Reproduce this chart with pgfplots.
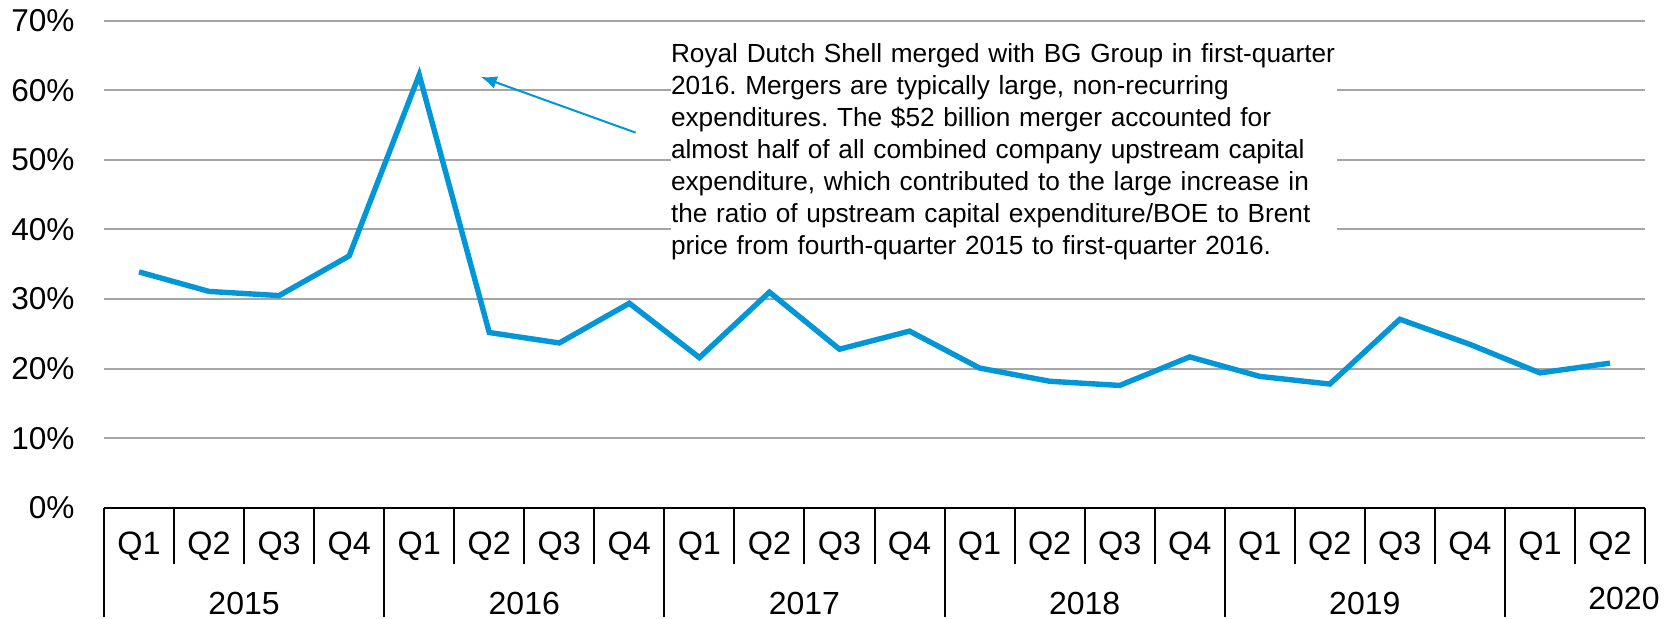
\documentclass[border=0pt]{standalone}
\usepackage{pgfplots}
\pgfplotsset{compat=1.18}
\usetikzlibrary{arrows.meta}
\usepackage{fontspec}
\setmainfont{Liberation Sans}
\frenchspacing
\definecolor{eiablue}{HTML}{0096D7}
\definecolor{gridgray}{HTML}{A6A6A6}
\begin{document}
\begin{tikzpicture}
\begin{axis}[
  at={(0,0)}, anchor=south west,
  scale only axis, width=770.5pt, height=243.75pt,
  xmin=-0.5, xmax=21.5, ymin=0, ymax=70,
  clip=false,
  axis line style={draw=none},
  tick style={draw=none},
  major tick length=0pt,
  ymajorgrids, grid style={gridgray, line width=1pt},
  ytick={0,10,...,70},
  yticklabel={\pgfmathprintnumber{\tick}\%},
  /pgf/number format/assume math mode=true,
  yticklabel style={anchor=east, inner sep=0pt, xshift=-14.5pt, font=\fontsize{15.8}{18}\selectfont},
  xtick={0,...,21},
  xticklabels={Q1,Q2,Q3,Q4,Q1,Q2,Q3,Q4,Q1,Q2,Q3,Q4,Q1,Q2,Q3,Q4,Q1,Q2,Q3,Q4,Q1,Q2},
  xticklabel style={anchor=center, inner sep=0pt, yshift=-19pt, font=\fontsize{16.2}{18}\selectfont},
]
\addplot[eiablue, line width=2.7pt] coordinates {
 (0,33.9) (1,31.1) (2,30.5) (3,36.2)
 (4,62.2) (5,25.2) (6,23.7) (7,29.4)
 (8,21.6) (9,31.0) (10,22.8) (11,25.4)
 (12,20.1) (13,18.2) (14,17.6) (15,21.7)
 (16,18.9) (17,17.8) (18,27.1) (19,23.5)
 (20,19.4) (21,20.8)
};
% category table
\draw[black, line width=1pt] (axis cs:-0.5,0) -- (axis cs:21.5,0);
\pgfplotsinvokeforeach{0.5,1.5,2.5,4.5,5.5,6.5,8.5,9.5,10.5,12.5,13.5,14.5,16.5,17.5,18.5,20.5,21.5}{
  \draw[black, line width=1pt] (axis cs:#1,0) -- ([yshift=-28pt]axis cs:#1,0);
}
\pgfplotsinvokeforeach{-0.5,3.5,7.5,11.5,15.5,19.5}{
  \draw[black, line width=1pt] (axis cs:#1,0) -- ([yshift=-54.5pt]axis cs:#1,0);
}
\node[font=\fontsize{16}{18}\selectfont, inner sep=0pt, yshift=-47.5pt] at (axis cs:1.5,0) {2015};
\node[font=\fontsize{16}{18}\selectfont, inner sep=0pt, yshift=-47.5pt] at (axis cs:5.5,0) {2016};
\node[font=\fontsize{16}{18}\selectfont, inner sep=0pt, yshift=-47.5pt] at (axis cs:9.5,0) {2017};
\node[font=\fontsize{16}{18}\selectfont, inner sep=0pt, yshift=-47.5pt] at (axis cs:13.5,0) {2018};
\node[font=\fontsize{16}{18}\selectfont, inner sep=0pt, yshift=-47.5pt] at (axis cs:17.5,0) {2019};
\node[font=\fontsize{16}{18}\selectfont, inner sep=0pt, yshift=-45.25pt] at (axis cs:21.2,0) {2020};
% annotation
\node[anchor=north west, fill=white, inner sep=0pt, align=left, text width=333pt,
      font=\fontsize{13.1}{16}\selectfont] at (axis cs:7.59,66.7) {Royal Dutch Shell merged with BG Group in first-quarter\\
2016. Mergers are typically large, non-recurring\\
expenditures. The \$52 billion merger accounted for\\
almost half of all combined company upstream capital\\
expenditure, which contributed to the large increase in\\
the ratio of upstream capital expenditure/BOE to Brent\\
price from fourth-quarter 2015 to first-quarter 2016.};
\draw[eiablue, line width=1pt, -{Latex[length=8pt,width=6.5pt]}] (axis cs:7.09,53.9) -- (axis cs:4.88,61.9);
\end{axis}
\path[use as bounding box] (-52pt,-55pt) rectangle (785.5pt,254pt);
\end{tikzpicture}
\end{document}
